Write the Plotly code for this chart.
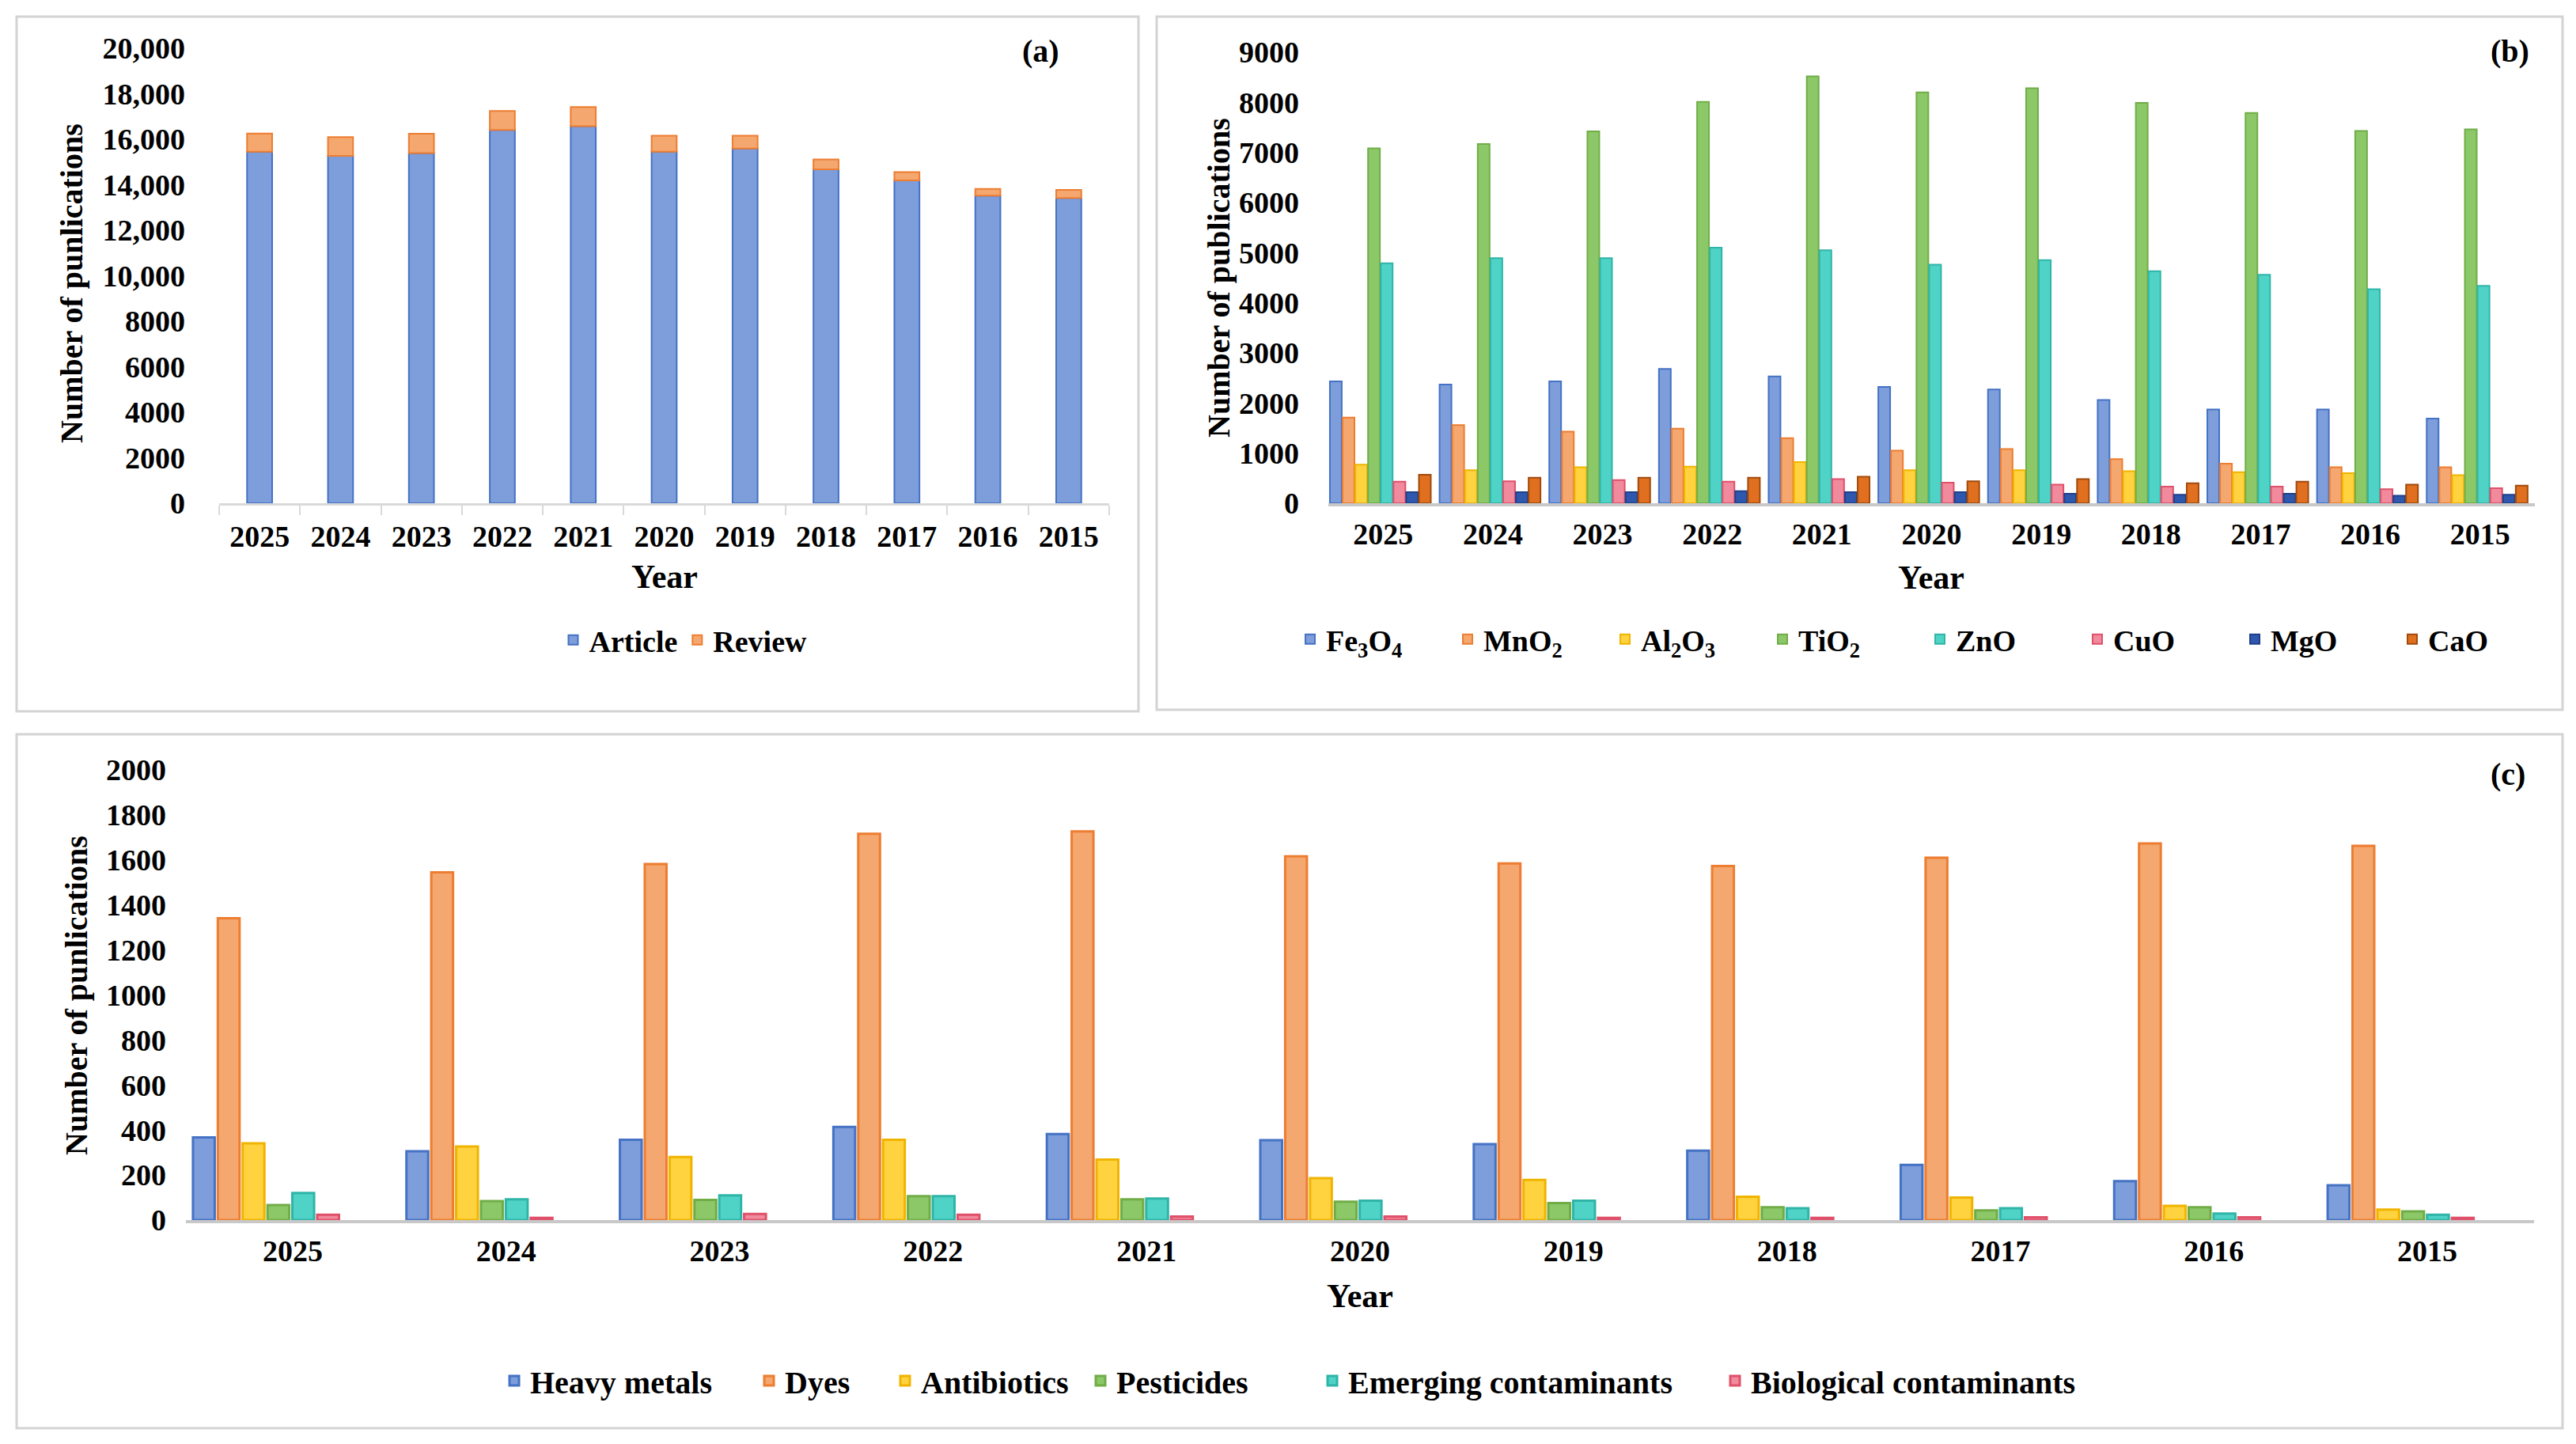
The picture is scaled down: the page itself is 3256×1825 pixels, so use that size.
import plotly.graph_objects as go

# ---- data ----
years = ["2025", "2024", "2023", "2022", "2021", "2020", "2019", "2018", "2017", "2016", "2015"]

# (a) article / review
article = [15450, 15270, 15390, 16410, 16570, 15450, 15590, 14680, 14190, 13520, 13420]
review = [800, 830, 850, 830, 850, 710, 570, 430, 370, 300, 350]

# (b) nanomaterials
fe3o4 = [2430, 2370, 2430, 2680, 2530, 2320, 2270, 2060, 1870, 1870, 1690]
mno2 = [1710, 1560, 1430, 1490, 1300, 1050, 1080, 880, 790, 720, 720]
al2o3 = [770, 660, 720, 730, 820, 660, 660, 640, 620, 600, 560]
tio2 = [7080, 7170, 7420, 8010, 8520, 8200, 8280, 7990, 7790, 7430, 7460]
zno = [4790, 4890, 4890, 5100, 5050, 4760, 4850, 4630, 4560, 4270, 4340]
cuo = [430, 440, 460, 430, 480, 410, 370, 330, 330, 280, 300]
mgo = [220, 220, 220, 240, 220, 220, 190, 170, 190, 150, 170]
cao = [570, 510, 510, 510, 530, 440, 480, 400, 430, 370, 350]

# (c) contaminants
heavy_metals = [367, 306, 357, 414, 382, 355, 337, 308, 245, 173, 155]
dyes = [1341, 1545, 1582, 1716, 1727, 1616, 1584, 1573, 1610, 1673, 1663]
antibiotics = [341, 327, 280, 357, 269, 186, 178, 104, 100, 63, 47]
pesticides = [67, 84, 90, 106, 92, 82, 76, 57, 43, 57, 39]
emerging = [120, 92, 110, 106, 96, 86, 86, 53, 53, 29, 24]
biological = [24, 10, 27, 24, 16, 16, 10, 10, 12, 12, 10]

yticks_a = [0, 2000, 4000, 6000, 8000, 10000, 12000, 14000, 16000, 18000, 20000]
yticktext_a = ["0", "2000", "4000", "6000", "8000", "10,000", "12,000", "14,000", "16,000", "18,000", "20,000"]

W, H = 3256, 1825
FONT = "Liberation Serif"
PAGE_OFF = 8  # default body margin of the html page


def px(x):
    return (x - PAGE_OFF) / W


def py(y):
    return 1 - (y - PAGE_OFF) / H


# colours: (fill, outline)
BLUE = ("#7E9DDB", "#4472C4")
ORANGE = ("#F4A76E", "#ED7D31")
YELLOW = ("#FFD23F", "#F0B400")
GREEN = ("#8CC868", "#70AD47")
TEAL = ("#4FD3C6", "#2FB5A8")
PINK = ("#F08A9C", "#E0506A")
DBLUE = ("#2E58AE", "#1F3F8A")
DORANGE = ("#E07020", "#A04A0C")

tickfont = dict(family=FONT, size=38, color="black", weight="bold")
legfont = dict(family=FONT, size=38, color="black", weight="bold")

fig = go.Figure()

# ---- (a) stacked bars drawn with base ----
fig.add_trace(go.Bar(
    x=years, y=article, name="Article", xaxis="x", yaxis="y", legend="legend",
    width=0.31, offset=-0.155,
    marker=dict(color=BLUE[0], line=dict(color=BLUE[1], width=2)),
))
fig.add_trace(go.Bar(
    x=years, y=review, base=article, name="Review", xaxis="x", yaxis="y", legend="legend",
    width=0.31, offset=-0.155,
    marker=dict(color=ORANGE[0], line=dict(color=ORANGE[1], width=2)),
))

# ---- (b) grouped bars ----
b_series = [
    ("Fe<sub>3</sub>O<sub>4</sub>", fe3o4, BLUE),
    ("MnO<sub>2</sub>", mno2, ORANGE),
    ("Al<sub>2</sub>O<sub>3</sub>", al2o3, YELLOW),
    ("TiO<sub>2</sub>", tio2, GREEN),
    ("ZnO", zno, TEAL),
    ("CuO", cuo, PINK),
    ("MgO", mgo, DBLUE),
    ("CaO", cao, DORANGE),
]
for i, (nm, vals, col) in enumerate(b_series):
    fig.add_trace(go.Bar(
        x=years, y=vals, name=nm, xaxis="x2", yaxis="y2", legend="legend2",
        width=0.108, offset=-0.486 + i * 0.116,
        marker=dict(color=col[0], line=dict(color=col[1], width=2)),
    ))

# ---- (c) grouped bars (8 slots, 6 used), one legend box per entry ----
c_series = [
    ("Heavy metals", heavy_metals, BLUE),
    ("Dyes", dyes, ORANGE),
    ("Antibiotics", antibiotics, YELLOW),
    ("Pesticides", pesticides, GREEN),
    ("Emerging contaminants", emerging, TEAL),
    ("Biological contaminants", biological, PINK),
]
c_legend_x = [644, 966, 1138, 1385, 1678, 2187]  # left edge of each legend key
c_legends = {}
for i, (nm, vals, col) in enumerate(c_series):
    lg = "legend%d" % (i + 3)
    fig.add_trace(go.Bar(
        x=years, y=vals, name=nm, xaxis="x3", yaxis="y3", legend=lg,
        width=0.102, offset=-0.467 + i * 0.1164,
        marker=dict(color=col[0], line=dict(color=col[1], width=3)),
    ))
    c_legends[lg] = dict(orientation="h", x=px(c_legend_x[i] - 14), y=py(1745),
                         xanchor="left", yanchor="middle",
                         font=dict(legfont, size=40), bgcolor="rgba(0,0,0,0)")

xcommon = dict(type="category", showgrid=False, zeroline=False, showline=True,
               tickfont=tickfont, fixedrange=True, automargin=False)
ycommon = dict(showgrid=False, zeroline=False, showline=False, ticks="",
               tickfont=tickfont, automargin=False)

fig.update_layout(
    width=W, height=H,
    margin=dict(l=0, r=0, t=0, b=0, pad=0, autoexpand=False),
    paper_bgcolor="white", plot_bgcolor="white",
    barmode="overlay",
    xaxis=dict(xcommon, domain=[px(277), px(1402)], anchor="y",
               linecolor="#D9D9D9", linewidth=3, ticks="outside", tickson="boundaries",
               ticklen=12, tickwidth=2, tickcolor="#D9D9D9", ticklabelstandoff=6),
    yaxis=dict(ycommon, domain=[py(636), py(61)], anchor="x", range=[0, 20000],
               tickvals=yticks_a, ticktext=yticktext_a, ticklabelstandoff=42),
    xaxis2=dict(xcommon, domain=[px(1679), px(3204)], anchor="y2",
                linecolor="#C8C8C8", linewidth=4, ticks="", ticklabelstandoff=2),
    yaxis2=dict(ycommon, domain=[py(636), py(66)], anchor="x2", range=[0, 9000],
                dtick=1000, tickformat="d", ticklabelstandoff=36),
    xaxis3=dict(xcommon, domain=[px(235), px(3203)], anchor="y3",
                linecolor="#C8C8C8", linewidth=4, ticks="", ticklabelstandoff=2),
    yaxis3=dict(ycommon, domain=[py(1542), py(973)], anchor="x3", range=[0, 2000],
                dtick=200, tickformat="d", ticklabelstandoff=24),
    legend=dict(orientation="h", x=px(865), y=py(809), xanchor="center", yanchor="middle",
                font=legfont, bgcolor="rgba(0,0,0,0)"),
    legend2=dict(orientation="h", x=px(2432), y=py(808), xanchor="center", yanchor="middle",
                 font=legfont, bgcolor="rgba(0,0,0,0)", entrywidth=154),
    showlegend=True,
)
fig.update_layout(**c_legends)

# panel frames
for x0, y0, x1, y1 in [(21, 21, 1439, 899), (1462, 21, 3239, 897), (21, 928, 3239, 1805)]:
    fig.add_shape(type="rect", xref="paper", yref="paper",
                  x0=px(x0), y0=py(y1), x1=px(x1), y1=py(y0),
                  line=dict(color="#D3D3D3", width=3), fillcolor="rgba(0,0,0,0)", layer="below")


# titles and panel letters
def label(text, x, y, size=40, angle=0):
    fig.add_annotation(text=text, x=px(x), y=py(y), xref="paper", yref="paper",
                       showarrow=False, textangle=angle, xanchor="center", yanchor="middle",
                       font=dict(family=FONT, size=size, color="black", weight="bold"))


label("Year", 840, 729, 42)
label("Year", 2441, 730, 42)
label("Year", 1719, 1638, 42)
label("Number of punlications", 90, 358, 40, -90)
label("Number of publications", 1541, 351, 40, -90)
label("Number of punlications", 96, 1258, 40, -90)
label("(a)", 1315, 64, 40)
label("(b)", 3172, 64, 40)
label("(c)", 3170, 978, 40)

fig.write_html("out.html")
